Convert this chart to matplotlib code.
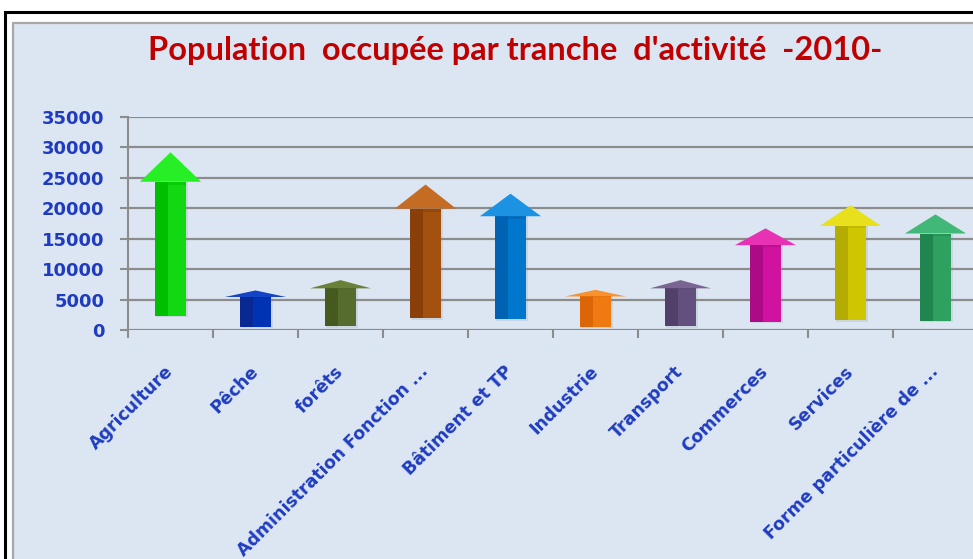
# -*- coding: utf-8 -*-
"""Population occupée par tranche d'activité (2010) - arrow chart."""

import numpy as np
import matplotlib
matplotlib.use("Agg")
from matplotlib import pyplot as plt
from matplotlib.patches import Polygon, Rectangle

# ==============================================================================
# DATA
# ==============================================================================
categories = [
    "Agriculture", "Pêche", "forêts", "Administration Fonction ...",
    "Bâtiment et TP", "Industrie", "Transport", "Commerces", "Services",
    "Forme particulière de ...",
]
values = [29200, 6500, 8200, 23900, 22400, 6600, 8200, 16700, 20500, 19000]

# (dark shaft, light shaft, head)
colors = [
    ("#00bf00", "#12d812", "#26ef26"),
    ("#0a2894", "#0032b4", "#1444c6"),
    ("#465a20", "#566c2e", "#6a8038"),
    ("#8a3f08", "#a2520e", "#c46c24"),
    ("#0062b2", "#0076cc", "#1c92e2"),
    ("#dc6606", "#f07a12", "#f8922e"),
    ("#52406a", "#64507e", "#7a6492"),
    ("#ac0a86", "#d0129e", "#e832b4"),
    ("#b4ac00", "#cfc600", "#e8e01c"),
    ("#1f8650", "#2ea060", "#42b878"),
]

yticks = [0, 5000, 10000, 15000, 20000, 25000, 30000, 35000]

# ==============================================================================
# FIGURE
# ==============================================================================
W, H = 973, 559
fig = plt.figure(figsize=(W / 100, H / 100), dpi=100)
fig.patch.set_facecolor("white")

# Frame: black outer border, white gap, gray inner border, light-blue area.
fig.add_artist(Rectangle((5 / W, -0.1), 1.2, 1 - 12 / H + 0.1, transform=fig.transFigure,
                         facecolor="white", edgecolor="black", linewidth=2.2, zorder=0))
fig.add_artist(Rectangle((13 / W, -0.1), 1.2, 1 - 23 / H + 0.1, transform=fig.transFigure,
                         facecolor="#dce6f2", edgecolor="#a8a8a8", linewidth=1.6, zorder=0))

# Axes placement (pixel based).
x0, x1 = 128, 128 + 85 * len(categories)
y0, y1 = 330, 117
ax = fig.add_axes([x0 / W, 1 - y0 / H, (x1 - x0) / W, (y0 - y1) / H])
ax.set_facecolor("none")
ax.set_xlim(0, len(categories))
ax.set_ylim(0, 35000)

grid_col = "#8c8c8c"
for s in ["top", "right", "bottom"]:
    ax.spines[s].set_visible(False)
ax.spines["left"].set_color(grid_col)
ax.spines["left"].set_linewidth(1.5)

ax.set_yticks(yticks)
ax.yaxis.grid(True, color=grid_col, linewidth=1.6)
ax.set_axisbelow(True)
ax.tick_params(axis="y", length=6, width=1.5, color=grid_col, pad=11,
               labelsize=13, labelcolor="#1f3cc0")
for lbl in ax.get_yticklabels():
    lbl.set_fontweight("bold")
    lbl.set_family("DejaVu Sans")

# x: boundary ticks (minor) and centered labels (major).
ax.set_xticks(np.arange(len(categories)) + 0.5)
ax.set_xticks(np.arange(len(categories) + 1), minor=True)
ax.tick_params(axis="x", which="minor", length=6, width=1.5, color=grid_col)
ax.tick_params(axis="x", which="major", length=0, pad=28)
ax.set_xticklabels(categories, rotation=45, ha="right", va="center",
                   rotation_mode="anchor", fontsize=12.5, fontweight="bold",
                   color="#1f3cc0", family="DejaVu Sans")

# ==============================================================================
# ARROWS
# ==============================================================================
shaft_w = 0.37
head_w = 0.72
for i, (v, (c_dark, c_light, c_head)) in enumerate(zip(values, colors)):
    cx = i + 0.5
    base = 0.08 * v
    head_h = 0.18 * (v - base)
    neck = v - head_h
    # soft shadow
    ax.add_patch(Polygon([(cx - shaft_w / 2 + 0.02, base - 250), (cx + shaft_w / 2 + 0.02, base - 250),
                          (cx + shaft_w / 2 + 0.02, neck), (cx - shaft_w / 2 + 0.02, neck)],
                         closed=True, facecolor="#7f8a99", alpha=0.18, edgecolor="none", zorder=2))
    # shaft: darker left part, lighter right part
    xm = cx - shaft_w / 2 + shaft_w * 0.42
    ax.add_patch(Polygon([(cx - shaft_w / 2, base), (xm, base), (xm, neck), (cx - shaft_w / 2, neck)],
                         closed=True, facecolor=c_dark, edgecolor="none", zorder=3))
    ax.add_patch(Polygon([(xm, base), (cx + shaft_w / 2, base), (cx + shaft_w / 2, neck), (xm, neck)],
                         closed=True, facecolor=c_light, edgecolor="none", zorder=3))
    # head
    ax.add_patch(Polygon([(cx - head_w / 2, neck), (cx + head_w / 2, neck), (cx, v)],
                         closed=True, facecolor=c_head, edgecolor="none", zorder=4))
    ax.add_patch(Polygon([(cx - shaft_w / 2, neck), (cx + shaft_w / 2, neck),
                          (cx + shaft_w / 2, neck - head_h * 0.12), (cx - shaft_w / 2, neck - head_h * 0.12)],
                         closed=True, facecolor=c_dark, alpha=0.5, edgecolor="none", zorder=4))

# ==============================================================================
# TITLE
# ==============================================================================
fig.text(515 / W, 1 - 60 / H, "Population  occupée par tranche  d'activité  -2010-",
         ha="center", va="baseline", fontsize=23.5, fontweight="bold",
         color="#c00000", family="Lato")

fig.savefig("out.png", dpi=100)
